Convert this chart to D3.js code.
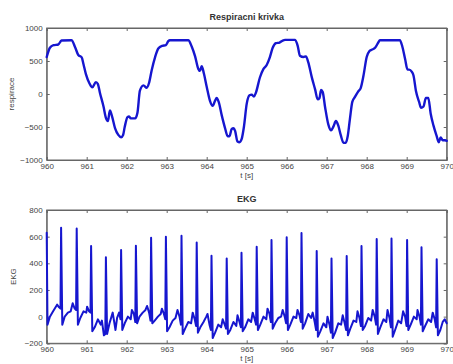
<!DOCTYPE html>
<html><head><meta charset="utf-8">
<script src="https://cdn.jsdelivr.net/npm/d3@7"></script>
<style>
html,body{margin:0;padding:0;background:#fff;}
svg{display:block;font-family:"Liberation Sans",Arial,sans-serif;}
</style></head>
<body><svg id="c" width="453" height="364"></svg>
<script>
// ---------- DATA ----------
const xTicks = [960,961,962,963,964,965,966,967,968,969,970];
const respTicks = [-1000,-500,0,500,1000];
const ekgTicks = [-200,0,200,400,600,800];

const respT = [960.00,960.08,960.17,960.29,960.37,960.62,960.71,960.79,960.875,960.92,960.98,961.07,961.14,961.23,961.28,961.33,961.42,961.48,961.53,961.58,961.63,961.71,961.79,961.86,961.91,961.95,962.02,962.06,962.10,962.21,962.27,962.33,962.42,962.50,962.56,962.625,962.71,962.79,962.89,962.98,963.04,963.08,963.54,963.625,963.71,963.79,963.83,963.875,963.93,964.00,964.08,964.15,964.21,964.25,964.30,964.375,964.46,964.525,964.57,964.625,964.67,964.71,964.77,964.82,964.875,964.93,965.00,965.07,965.125,965.18,965.23,965.33,965.42,965.50,965.58,965.65,965.73,965.82,965.90,965.96,966.21,966.275,966.33,966.42,966.48,966.54,966.625,966.71,966.775,966.82,966.86,966.90,966.96,967.04,967.11,967.17,967.23,967.29,967.35,967.42,967.475,967.525,967.58,967.64,967.71,967.79,967.85,967.92,968.00,968.07,968.125,968.21,968.29,968.33,968.83,968.89,968.96,969.02,969.06,969.125,969.17,969.23,969.31,969.36,969.42,969.48,969.54,969.60,969.67,969.75,969.80,969.85,969.90,969.96,970.00];
const respV = [560,700,740,750,810,815,710,590,555,450,300,160,100,180,150,20,-190,-360,-410,-250,-330,-520,-620,-655,-620,-500,-350,-340,-370,-370,-280,50,130,95,170,360,560,690,730,740,800,815,815,720,570,380,350,420,310,110,-100,-180,-100,-60,-120,-320,-520,-640,-640,-530,-520,-560,-720,-730,-680,-500,-150,-20,-10,-40,20,250,380,440,560,700,770,780,810,820,820,730,580,560,570,480,260,70,-80,-60,60,30,-200,-460,-550,-490,-410,-480,-620,-740,-740,-640,-380,-120,-40,40,90,280,560,650,670,700,780,815,815,720,530,370,370,340,280,50,-120,-210,-190,-60,-60,-300,-480,-640,-730,-660,-700,-700,-710];

const ekgT = [960.00,960.02,960.08,960.16,
960.26,960.31,960.345,960.36,960.39,960.45,960.53,960.60,
960.65,960.70,960.735,960.75,960.78,960.84,960.92,960.99,
961.01,961.06,961.095,961.11,961.14,961.20,961.28,961.35,
961.38,961.43,961.465,961.48,961.51,961.57,961.65,961.72,
961.76,961.81,961.845,961.86,961.89,961.95,962.03,962.10,
962.13,962.18,962.215,962.23,962.26,962.32,962.40,962.47,
962.51,962.56,962.595,962.61,962.64,962.70,962.78,962.85,
962.88,962.93,962.965,962.98,963.01,963.07,963.15,963.22,
963.27,963.32,963.355,963.37,963.40,963.46,963.54,963.61,
963.65,963.70,963.735,963.75,963.78,963.84,963.92,963.99,
964.02,964.07,964.105,964.12,964.15,964.21,964.29,964.36,
964.40,964.45,964.485,964.50,964.53,964.59,964.67,964.74,
964.77,964.82,964.855,964.87,964.90,964.96,965.04,965.11,
965.15,965.20,965.235,965.25,965.28,965.34,965.42,965.49,
965.52,965.57,965.605,965.62,965.65,965.71,965.79,965.86,
965.90,965.95,965.985,966.00,966.03,966.09,966.17,966.24,
966.27,966.32,966.355,966.37,966.40,966.46,966.54,966.61,
966.65,966.70,966.735,966.75,966.78,966.84,966.92,966.99,
967.02,967.07,967.105,967.12,967.15,967.21,967.29,967.36,
967.40,967.45,967.485,967.50,967.53,967.59,967.67,967.74,
967.77,967.82,967.855,967.87,967.90,967.96,968.04,968.11,
968.15,968.20,968.235,968.25,968.28,968.34,968.42,968.49,
968.52,968.57,968.605,968.62,968.65,968.71,968.79,968.86,
968.91,968.96,968.995,969.01,969.04,969.10,969.18,969.25,
969.27,969.32,969.355,969.37,969.40,969.46,969.54,969.61,
969.65,969.70,969.735,969.75,969.78,969.84,969.90,969.95,970.00];
const ekgV = [630,-60,0,40,
90,70,60,667,-60,0,30,40,
100,60,50,662,-60,-10,40,30,
75,40,30,530,-110,-80,-20,-60,
-30,-140,-130,445,-130,-50,30,-100,
-10,30,-20,500,-100,-50,0,-20,
50,20,-40,532,-50,0,30,50,
80,30,-30,592,-50,-30,0,20,
60,20,-20,600,-110,-80,-30,-10,
50,0,-60,607,-130,-90,-40,-50,
30,-20,-70,557,-120,-80,-40,0,
20,-60,-100,457,-160,-120,-60,-80,
-20,-60,-90,437,-130,-100,-40,-70,
10,-40,-80,480,-110,-80,-20,-40,
30,-20,-60,525,-100,-60,0,-20,
60,20,-40,575,-90,-50,-10,0,
50,0,-50,595,-100,-60,0,-10,
50,10,-40,627,-90,-50,20,-10,
30,-40,-100,492,-150,-110,-50,-80,
0,-60,-120,437,-160,-120,-50,-60,
10,-50,-100,455,-140,-90,-30,-40,
40,-10,-70,530,-100,-70,-10,-30,
50,0,-60,582,-130,-80,-20,-40,
50,-10,-80,587,-150,-100,-30,-50,
40,0,-70,575,-100,-60,0,-20,
50,0,-60,520,-110,-70,-20,-40,
30,-20,-80,430,-140,-100,-40,-20,-50];

// ---------- DRAW ----------
const svg = d3.select("#c");
const L = 46.7, R = 446.7;
const lineColor = "#1616cf";
const axisColor = "#666";
const textColor = "#444";

function panel(cfg){
  const x = d3.scaleLinear().domain([960,970]).range([L,R]);
  const y = d3.scaleLinear().domain(cfg.ydom).range([cfg.bottom, cfg.top]);
  const g = svg.append("g");
  const tl = 3;
  g.append("rect").attr("x",L).attr("y",cfg.top).attr("width",R-L).attr("height",cfg.bottom-cfg.top)
    .attr("fill","#fff").attr("stroke",axisColor).attr("stroke-width",1);
  const ax = d3.axisBottom(x).tickValues(xTicks).tickSize(-tl).tickPadding(3).tickFormat(d3.format("d"));
  const axB = g.append("g").attr("transform",`translate(0,${cfg.bottom})`).call(ax);
  const axT = g.append("g").attr("transform",`translate(0,${cfg.top})`).call(d3.axisTop(x).tickValues(xTicks).tickSize(-tl).tickFormat(""));
  const ay = d3.axisLeft(y).tickValues(cfg.yticks).tickSize(-tl).tickPadding(4).tickFormat(d3.format("d"));
  const axL = g.append("g").attr("transform",`translate(${L},0)`).call(ay);
  const axR = g.append("g").attr("transform",`translate(${R},0)`).call(d3.axisRight(y).tickValues(cfg.yticks).tickSize(-tl).tickFormat(""));
  [axB,axT,axL,axR].forEach(a=>{
    a.select(".domain").attr("stroke",axisColor);
    a.selectAll(".tick line").attr("stroke",axisColor);
    a.selectAll("text").attr("fill",textColor).attr("font-size",8).attr("font-family","Liberation Sans, Arial, sans-serif");
  });
  const data = cfg.t.map((t,i)=>[t,cfg.v[i]]);
  g.append("path").datum(data)
    .attr("fill","none").attr("stroke",lineColor).attr("stroke-width",cfg.sw)
    .attr("stroke-linejoin","round").attr("stroke-linecap","round")
    .attr("d", d3.line().x(d=>x(d[0])).y(d=>y(d[1])).curve(cfg.curve));
  g.append("text").attr("x",(L+R)/2).attr("y",cfg.top-8).attr("text-anchor","middle")
    .attr("font-size",9).attr("fill","#333").attr("font-weight","bold").text(cfg.title);
  g.append("text").attr("x",(L+R)/2).attr("y",cfg.bottom+17.5).attr("text-anchor","middle")
    .attr("font-size",8).attr("fill",textColor).text("t [s]");
  g.append("text").attr("transform",`translate(${cfg.ylx},${(cfg.top+cfg.bottom)/2}) rotate(-90)`)
    .attr("text-anchor","middle").attr("font-size",8).attr("fill",textColor).text(cfg.ylabel);
}

panel({top:28,bottom:160,ydom:[-1000,1000],yticks:respTicks,t:respT,v:respV,
  sw:2.4,curve:d3.curveMonotoneX,title:"Respiracni krivka",ylabel:"respirace",ylx:14});
panel({top:210,bottom:343.3,ydom:[-200,800],yticks:ekgTicks,t:ekgT,v:ekgV,
  sw:2,curve:d3.curveLinear,title:"EKG",ylabel:"EKG",ylx:16});
</script></body></html>
